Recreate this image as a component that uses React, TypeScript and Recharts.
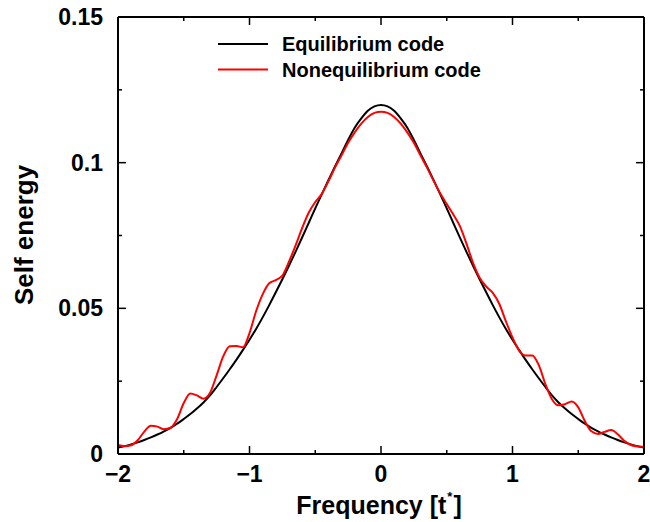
import { LineChart, Line, XAxis, YAxis, Legend } from 'recharts'

// frequency grid [t*]
const FREQ = [
    -2.0, -1.95, -1.9, -1.85, -1.8, -1.75, -1.7, -1.65, -1.6, -1.55,
    -1.5, -1.45, -1.4, -1.35, -1.3, -1.25, -1.2, -1.15, -1.1, -1.05,
    -1.0, -0.95, -0.9, -0.85, -0.8, -0.75, -0.7, -0.65, -0.6, -0.55,
    -0.5, -0.45, -0.4, -0.35, -0.3, -0.25, -0.2, -0.15, -0.1, -0.05,
    0.0, 0.05, 0.1, 0.15, 0.2, 0.25, 0.3, 0.35, 0.4, 0.45,
    0.5, 0.55, 0.6, 0.65, 0.7, 0.75, 0.8, 0.85, 0.9, 0.95,
    1.0, 1.05, 1.1, 1.15, 1.2, 1.25, 1.3, 1.35, 1.4, 1.45,
    1.5, 1.55, 1.6, 1.65, 1.7, 1.75, 1.8, 1.85, 1.9, 1.95, 2.0,
]

const EQUILIBRIUM = [
    0.0022, 0.0027, 0.0033, 0.0040, 0.0048, 0.0057, 0.0067, 0.0078, 0.0090, 0.0104,
    0.0120, 0.0137, 0.0156, 0.0177, 0.0201, 0.0230, 0.0260, 0.0291, 0.0323, 0.0357,
    0.0392, 0.0429, 0.0469, 0.0511, 0.0555, 0.0600, 0.0646, 0.0694, 0.0743, 0.0793,
    0.0843, 0.0892, 0.0940, 0.0987, 0.1032, 0.1078, 0.1120, 0.1152, 0.1178, 0.1193,
    0.1198, 0.1193, 0.1178, 0.1152, 0.1120, 0.1078, 0.1032, 0.0987, 0.0940, 0.0892,
    0.0843, 0.0793, 0.0743, 0.0694, 0.0646, 0.0600, 0.0555, 0.0511, 0.0469, 0.0429,
    0.0392, 0.0357, 0.0323, 0.0291, 0.0260, 0.0230, 0.0201, 0.0177, 0.0156, 0.0137,
    0.0120, 0.0104, 0.0090, 0.0078, 0.0067, 0.0057, 0.0048, 0.0040, 0.0033, 0.0027, 0.0022,
]

const NONEQUILIBRIUM = [
    0.0031, 0.0027, 0.0030, 0.0047, 0.0077, 0.0097, 0.0094, 0.0085, 0.0090, 0.0120,
    0.0175, 0.0208, 0.0201, 0.0190, 0.0210, 0.0270, 0.0335, 0.0370, 0.0371, 0.0366,
    0.0415, 0.0490, 0.0548, 0.0586, 0.0597, 0.0612, 0.0660, 0.0715, 0.0775, 0.0828,
    0.0865, 0.0893, 0.0936, 0.0983, 0.1025, 0.1068, 0.1104, 0.1134, 0.1157, 0.1171,
    0.1175, 0.1171, 0.1157, 0.1134, 0.1104, 0.1068, 0.1025, 0.0983, 0.0938, 0.0895,
    0.0858, 0.0822, 0.0782, 0.0722, 0.0656, 0.0605, 0.0575, 0.0553, 0.0515, 0.0455,
    0.0400, 0.0355, 0.0338, 0.0338, 0.0305, 0.0240, 0.0188, 0.0167, 0.0171, 0.0180,
    0.0160, 0.0113, 0.0078, 0.0069, 0.0076, 0.0082, 0.0068, 0.0045, 0.0031, 0.0026, 0.0025,
]

const X_TICKS = [-2, -1.5, -1, -0.5, 0, 0.5, 1, 1.5, 2]
const X_LABELS: Record<number, string> = { [-2]: '\u22122', [-1]: '\u22121', 0: '0', 1: '1', 2: '2' }
const Y_TICKS = [0, 0.025, 0.05, 0.075, 0.1, 0.125, 0.15]
const Y_LABELS: Record<number, string> = { 0: '0', 0.05: '0.05', 0.1: '0.1', 0.15: '0.15' }

const SERIES = [
    { key: 'eq', name: 'Equilibrium code', color: '#000000' },
    { key: 'neq', name: 'Nonequilibrium code', color: '#ff0000' },
]

const data = FREQ.map((f, i) => ({ freq: f, eq: EQUILIBRIUM[i], neq: NONEQUILIBRIUM[i] }))

const FONT = "'Liberation Sans', Arial, Helvetica, sans-serif"
const MAJOR = 8
const MINOR = 4

const BottomTick = ({ x, y, payload }: any) => {
    const label = X_LABELS[payload.value]
    return (
        <g>
            <line x1={x} x2={x} y1={y} y2={y - (label ? MAJOR : MINOR)} stroke="#000" strokeWidth={1.5} />
            {label && (
                <text x={x} y={y + 28} textAnchor="middle" fontSize={23} fontWeight="bold" fontFamily={FONT} fill="#000">
                    {label}
                </text>
            )}
        </g>
    )
}

const TopTick = ({ x, y, payload }: any) => {
    const major = X_LABELS[payload.value] !== undefined
    return <line x1={x} x2={x} y1={y} y2={y + (major ? MAJOR : MINOR)} stroke="#000" strokeWidth={1.5} />
}

const LeftTick = ({ x, y, payload }: any) => {
    const label = Y_LABELS[payload.value]
    return (
        <g>
            <line x1={x} x2={x + (label ? MAJOR : MINOR)} y1={y} y2={y} stroke="#000" strokeWidth={1.5} />
            {label && (
                <text x={x - 15} y={y + 8} textAnchor="end" fontSize={23} fontWeight="bold" fontFamily={FONT} fill="#000">
                    {label}
                </text>
            )}
        </g>
    )
}

const RightTick = ({ x, y, payload }: any) => {
    const major = Y_LABELS[payload.value] !== undefined
    return <line x1={x} x2={x - (major ? MAJOR : MINOR)} y1={y} y2={y} stroke="#000" strokeWidth={1.5} />
}

const xTitle = () => (
    <text x={379} y={514} textAnchor="middle" fontSize={25} fontWeight="bold" fontFamily={FONT} fill="#000">
        Frequency [t
        <tspan fontSize={13} dy={-13} dx={1}>*</tspan>
        <tspan dy={13} dx={1}>]</tspan>
    </text>
)

const yTitle = () => (
    <text transform="translate(33,235) rotate(-90)" textAnchor="middle" fontSize={26} fontWeight="bold" fontFamily={FONT} fill="#000">
        Self energy
    </text>
)

const renderLegend = () => (
    <svg width={300} height={60} style={{ display: 'block' }}>
        {SERIES.map((s, i) => (
            <g key={s.key}>
                <line x1={0} x2={50} y1={10 + i * 25.5} y2={10 + i * 25.5} stroke={s.color} strokeWidth={2} />
                <text x={64} y={17 + i * 25.5} fontSize={20} fontWeight="bold" fontFamily={FONT} fill="#000">
                    {s.name}
                </text>
            </g>
        ))}
    </svg>
)

export default function App() {
    return (
        <div style={{ position: 'absolute', left: 0, top: 0, width: 650, height: 522, background: '#fff' }}>
            <LineChart width={650} height={522} data={data} margin={{ top: 16, right: 5, bottom: 0, left: 0 }}>
                <XAxis
                    dataKey="freq"
                    type="number"
                    domain={[-2, 2]}
                    ticks={X_TICKS}
                    interval={0}
                    height={68}
                    tickSize={0}
                    tickMargin={0}
                    tickLine={false}
                    axisLine={{ stroke: '#000', strokeWidth: 2 }}
                    tick={BottomTick}
                    label={xTitle}
                />
                <XAxis
                    xAxisId="top"
                    dataKey="freq"
                    orientation="top"
                    type="number"
                    domain={[-2, 2]}
                    ticks={X_TICKS}
                    interval={0}
                    height={1}
                    tickSize={0}
                    tickMargin={0}
                    tickLine={false}
                    axisLine={{ stroke: '#000', strokeWidth: 2 }}
                    tick={TopTick}
                />
                <YAxis
                    type="number"
                    domain={[0, 0.15]}
                    ticks={Y_TICKS}
                    interval={0}
                    width={118}
                    tickSize={0}
                    tickMargin={0}
                    tickLine={false}
                    axisLine={{ stroke: '#000', strokeWidth: 2 }}
                    tick={LeftTick}
                    label={yTitle}
                />
                <YAxis
                    yAxisId="right"
                    orientation="right"
                    type="number"
                    domain={[0, 0.15]}
                    ticks={Y_TICKS}
                    interval={0}
                    width={1}
                    tickSize={0}
                    tickMargin={0}
                    tickLine={false}
                    axisLine={{ stroke: '#000', strokeWidth: 2 }}
                    tick={RightTick}
                />
                <Legend
                    layout="vertical"
                    align="center"
                    verticalAlign="middle"
                    content={renderLegend}
                    wrapperStyle={{ left: 218, top: 34, width: 300, height: 60 }}
                />
                {/* invisible series so the mirrored top/right axes get a scale */}
                <Line xAxisId="top" yAxisId="right" dataKey="eq" legendType="none" stroke="transparent" strokeWidth={0} dot={false} activeDot={false} isAnimationActive={false} />
                <Line dataKey="eq" name="Equilibrium code" type="monotone" stroke="#000" strokeWidth={2} dot={false} isAnimationActive={false} />
                <Line dataKey="neq" name="Nonequilibrium code" type="monotone" stroke="#ff0000" strokeWidth={2} dot={false} isAnimationActive={false} />
            </LineChart>
        </div>
    )
}
